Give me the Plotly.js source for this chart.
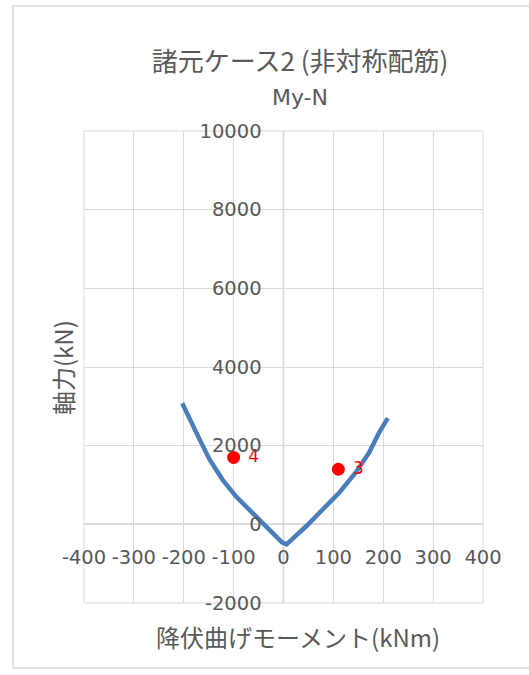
<!DOCTYPE html>
<html>
<head>
<meta charset="utf-8">
<script src="https://cdn.plot.ly/plotly-3.0.1.min.js"></script>
<style>
html,body{margin:0;padding:0;background:#fff;}
#chart{width:529px;height:675px;}
</style>
</head>
<body>
<div id="chart"></div>
<script>
// Curve (My-N interaction)
const curveM = [-203, -188, -168, -148, -122, -95, -62, -29, -3, 6, 46, 79, 112, 145, 172, 192, 209];
const curveN = [3080, 2664, 2153, 1643, 1132, 705, 300, -110, -460, -510, -43, 383, 809, 1320, 1830, 2340, 2700];
// Load points
const pointM = [110, -100];
const pointN = [1400, 1700];
const pointLabels = ['3', '4'];
// Axis ticks
const xTicks = [-400, -300, -200, -100, 0, 100, 200, 300, 400];
const yTicks = [-2000, 0, 2000, 4000, 6000, 8000, 10000];

const FONT = '"DejaVu Sans", "Noto Sans CJK JP", sans-serif';
const CJK = '"Noto Sans CJK JP", "DejaVu Sans", sans-serif';
const GREY = '#595959';

const traces = [
  {
    x: curveM, y: curveN, type: 'scatter', mode: 'lines',
    line: {color: '#4a7ebb', width: 4.5},
    hoverinfo: 'skip', showlegend: false
  },
  {
    x: pointM, y: pointN, type: 'scatter', mode: 'markers+text',
    marker: {color: '#ff0000', size: 13},
    text: pointLabels.map(s => ' ' + s),
    textposition: 'middle right',
    textfont: {color: '#ff0000', size: 17, family: FONT},
    showlegend: false
  }
];

const layout = {
  width: 529, height: 675,
  margin: {l: 84, r: 46, t: 131, b: 72},
  paper_bgcolor: '#ffffff', plot_bgcolor: '#ffffff',
  showlegend: false,
  title: {
    text: '諸元ケース2 (非対称配筋)<br><span style="font-size:22px;font-family:DejaVu Sans">My-N</span>',
    font: {family: CJK, size: 26, color: GREY},
    x: 300/529, xref: 'container', xanchor: 'center',
    y: 1 - 71/675, yref: 'container', yanchor: 'top'
  },
  xaxis: {
    range: [-400, 400], tickvals: xTicks, ticktext: xTicks.map(String),
    showgrid: true, gridcolor: '#d9d9d9', gridwidth: 1,
    zeroline: false, showline: false,
    anchor: 'free', position: 1/6,
    ticks: 'outside', ticklen: 15, tickcolor: 'rgba(0,0,0,0)',
    tickfont: {family: FONT, size: 19.5, color: GREY},
    fixedrange: true
  },
  yaxis: {
    range: [-2000, 10000], tickvals: yTicks, ticktext: yTicks.map(String),
    showgrid: true, gridcolor: '#d9d9d9', gridwidth: 1,
    zeroline: false, showline: false,
    anchor: 'free', position: 0.5,
    ticks: 'outside', ticklen: 18, tickcolor: 'rgba(0,0,0,0)',
    tickfont: {family: FONT, size: 19.5, color: GREY},
    fixedrange: true
  },
  shapes: [
    // plot area outline (edge gridlines)
    {type: 'rect', xref: 'paper', yref: 'paper', x0: 0, x1: 1, y0: 0, y1: 1,
     line: {color: '#d9d9d9', width: 1}, layer: 'below'},
    // axis lines at zero
    {type: 'line', xref: 'x', yref: 'paper', x0: 0, x1: 0, y0: 0, y1: 1, line: {color: '#bfbfbf', width: 1.5}, layer: 'below'},
    {type: 'line', xref: 'paper', yref: 'y', x0: 0, x1: 1, y0: 0, y1: 0, line: {color: '#bfbfbf', width: 1.5}, layer: 'below'},
    // chart area border
    {type: 'rect', xref: 'paper', yref: 'paper',
     x0: (13-84)/399, x1: (545-84)/399, y0: (603-668)/472, y1: (603-6)/472,
     line: {color: '#d9d9d9', width: 1.5}, layer: 'below'}
  ],
  annotations: [
    {text: '降伏曲げモーメント(kNm)', xref: 'paper', yref: 'paper', x: (298-84)/399, y: (603-636)/472,
     xanchor: 'center', yanchor: 'middle', showarrow: false,
     font: {family: CJK, size: 24, color: GREY}},
    {text: '軸力(kN)', xref: 'paper', yref: 'paper', x: (62-84)/399, y: (603-368)/472,
     xanchor: 'center', yanchor: 'middle', showarrow: false, textangle: -90,
     font: {family: CJK, size: 24, color: GREY}}
  ]
};

Plotly.newPlot('chart', traces, layout, {displayModeBar: false, staticPlot: true});
</script>
</body>
</html>
